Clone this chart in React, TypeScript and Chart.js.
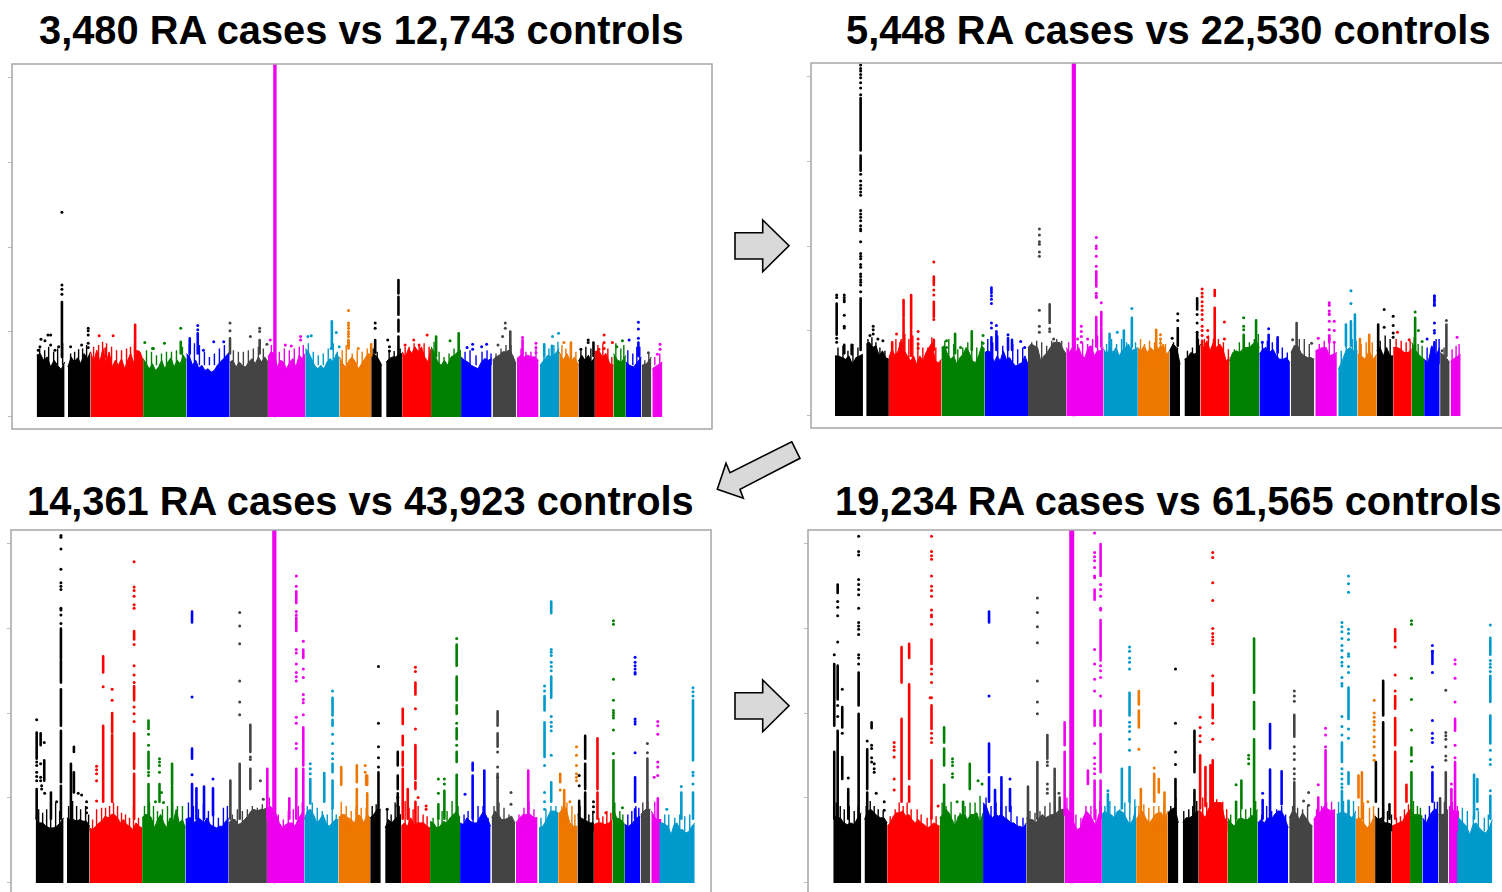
import React, { useEffect, useRef } from "react";
import { Chart, registerables } from "chart.js";

Chart.register(...registerables);

// Genome position is in plot units measured from the first base of chr1.
// Arms: chr1 and chr9 are split by their centromere gaps; chrX is last.
const armNames = ["1p","1q","2","3","4","5","6","7","8","9p","9q","10","11","12","13","14","15","16","17","18","19","20","21","22","X"];
const armStarts = [0,31.3,54,106.6,150,193.3,231.6,269,303.3,335,350,366,395,425,456.6,481,504,523.3,542.6,559,577.6,590,606,616.5,624.5];
const armEnds = [28,54,106.6,150,193.3,231.6,269,303.3,335,345.6,366,395,425,455.6,480,502.6,523.3,542.6,559,577.6,590,605.6,615.6,626.6,660];
const palette = ["#000000","#ff0000","#008000","#0000ff","#444444","#ee00ee","#0099cc","#ee7700"];
const armColorIndex = [0,0,1,2,3,4,5,6,7,0,0,1,2,3,4,5,6,7,0,1,2,3,4,5,6];

const yTicks = [0,10,20,30,40];
const titles = [
  "3,480 RA cases vs 12,743 controls",
  "5,448 RA cases vs 22,530 controls",
  "14,361 RA cases vs 43,923 controls",
  "19,234 RA cases vs 61,565 controls",
];

// Upper edge of the dense band of each arm, read left to right (-log10 P).
const skyA = [
  [7.2,7.4,6.6,7,5.8,6.6,6,5.5,6.4],
  [5.8,7,6.4,6.9,6.2,7.4,6.8,7.6],
  [7.6,6.4,7.8,6.4,8,6.2,7.6,5.8,6.6,6,6.8,5.6,6.6,7.4,6.2,7.8,7.6,6.6],
  [6.8,6.2,5.6,6.2,5.4,5.8,6.6,5.6,6.4,6.9,5.8,6.6,6.2,7.2,6.6],
  [7.4,7,6,6.6,5.7,6,5.4,5.6,5.2,5.4,6,6.4,6.8,7.2,7.6],
  [6.4,6.6,5.8,6.4,6,5.8,6.4,6.8,6.2,7,6.4,7,6.4],
  [7,7.6,7.4,5.8,6.6,6.4,5.6,6.4,6.8,5.8,7.2,6.8,7.4],
  [8,7.6,6.8,6,5.6,6,5.6,6.4,6.8,6.4,7.4,6.8],
  [7,6.2,5.8,6.6,7,6.4,5.6,6.2,6.8,7.4,7.2],
  [7.2,7.3,6.8,6],
  [6.4,6.8,7,7,7.3,7.4],
  [7.6,7,8,7.4,8.2,7.6,8.2,7,6.4,8],
  [8.2,7.4,6.4,6,6.6,6,7,7.2,7.6,7.8],
  [7,6.6,6.4,6,5.8,5.6,6.4,6.8,6.6,6.8],
  [6.6,7,7.2,7.6,7.6,7.8,7.2,6.2],
  [6.8,7.2,7,7.2,7,7,6.6],
  [6,6.6,7.2,7,7.4,8],
  [7.6,6.6,7.4,6.4,7,6],
  [6.5,7.2,6.6,7.2,6.4,7],
  [7.6,7.8,7,7.4,6.2,6],
  [7.4,6.6,6.4,7.2],
  [6.4,6,5.8,6.4,7],
  [6,6.2,7],
  [5.6,6,6.4],
];
const skyB = [
  [7,7,6.8,6.6,7,6,6.8,7,7.2],
  [8.4,8.6,8,8.2,7,7.6,6.8,6.6],
  [6.8,7.8,7,7.6,9,7.6,7,6.4,7,6,7,6.4,7.4,8,8.6,6.4,6.2,6.6],
  [8,8.2,7.2,6.6,7,6,6.8,7.2,8,7.4,6.4,6.2,7,8.2,7.8],
  [7.4,7.6,7.4,6.2,7,6.4,7.6,6.6,6.8,6.2,5.8,6,6.2,7,6],
  [8,8.4,8.2,8,6.4,7,7.4,8,8.6,8.6,8.6,7.8,7.2],
  [8,7.4,8,7.4,8,7,6.8,8,8.2,7,7.6,7.6,8],
  [7.8,7.2,8,7.4,8,7,7.6,8,8.4,7.6,7.8,8],
  [8,7.6,8.2,7.4,8,7.6,8,7.8,8.4,7.2,7.6],
  [7.6,8.4,8,6],
  [6.6,6.8,7.4,7.2,7.4,8.4],
  [8,8,8.8,7.6,8.6,8,8.4,7.8,6.4,6.8],
  [6.4,7.4,7.6,7.4,7.8,8,8,8.4,8.8,8],
  [7.2,7.8,8,7.4,7.8,7,6.6,6.6,6.8,6.2],
  [7.4,8.2,8.2,7.4,7,6.8,6.8,6.6],
  [7.6,7.8,8,8,7,7.2,7.4],
  [5.4,6.4,7.6,8,7.6,7.6],
  [7.2,7,6.6,7.6,6.6,7.2],
  [7.6,8,7,8,7,7],
  [8,8,7.8,7.4,7.4,7.8],
  [8.6,7.6,7,6.6],
  [6.6,6.2,8.2,7,8],
  [7.4,7,6.2],
  [6.4,6.8,7.2],
];
const skyC = [
  [7.6,7,7,6.6,6.4,6.4,6.6,7,7.6],
  [7.6,7.4,7.4,7.2,7.4,7.2,7.2,6.6],
  [6.4,6.2,6.6,7,7.2,7.8,7.6,8,8,7.6,7,7.4,6.8,6.6,6.2,7,6.6,6.4],
  [7.6,8,8,7.6,6.4,7.4,8,7,6.4,7.6,7,8.6,7,7.4,6.4],
  [7.4,7.6,7.6,7,7.6,7.4,7,7.6,6.8,6.6,6.4,6.6,6.6,7.2,7.6],
  [7,7.4,7.4,6.8,7,7.4,7.8,8.4,8.6,8.4,8.6,8.6,8.8],
  [8.6,9,8.6,8,7,6.4,6.8,7,7,6.6,7.4,8,8.6],
  [7.4,8.4,8.6,8,7,7.4,8,7,6.6,7,7.4,7.4],
  [7.6,8,8,7.6,7.4,7,8,7.8,7,8,7.6],
  [7.6,8,8.6,8.6],
  [6.4,7.4,7,7.4,7.8,8],
  [6.6,7,6.6,7.6,6.8,7,7,7,6.6,6.4],
  [7.2,7,6.4,6.6,7.2,7,7.6,8,8.4,7.6],
  [7,6.8,7.6,7.2,7,7,7.8,8.4,7.6,6.6],
  [7.6,8.4,8,7.4,7.4,7.6,7.8,7],
  [7,7.6,8,8,8,7.6,7.6],
  [6.4,6.6,7.4,8.4,8.4,8.2],
  [8,8.6,8.8,7,6.6,6.6],
  [8,7.6,7.4,7.2,7,7],
  [6.8,7,7,6.8,7,7.4],
  [9,7.6,7.4,6.8],
  [6.8,6.6,7,7.6,7.8],
  [8,8.6,8.6],
  [8.4,7.4,7.4],
  [7,7,6.8,6.6,5.6,6.8,7,6.2,6.2,5.8,6,6.6,7],
];
const skyD = [
  [8,7.6,7.6,7,6.8,7,6.8,7.6,8.2],
  [7.4,8.4,8.6,8.2,7.8,7.6,7.6,7],
  [6.6,7,7.8,8.2,8.2,8.4,7.8,8,7.4,7,7.4,7,6.8,6.4,6.6,7,6.8,6.6],
  [7.6,8,8.6,8.2,7.4,6.6,7.8,8,8,7.4,8,8,8.2,7,8.2],
  [9.4,9,8,7.6,8,7.8,8,7.6,7.4,7,7,6.6,6.6,6.4,7],
  [7.6,7.4,7.4,7,7.6,8,7.6,7.8,8,8,8.4,8.6,8.6],
  [9,8.6,8,7,6.2,6.4,7.6,8.4,8,7.4,6.6,8,9],
  [8,8.4,8,8,7.6,8.4,8.4,8.2,7.4,6.8,7.4,9],
  [7.4,8,8.4,7.6,7,7.4,8,8.2,8.2,7.4,8.4],
  [8.2,8.6,8.8,7],
  [7,7.6,7.6,7.8,8.2,8.4],
  [8.6,8.2,7.6,8.6,9.4,9.4,9.4,9.4,7.6,7],
  [7.6,7,6.6,7.4,7.6,7.4,7.4,7.8,8,8.6],
  [7,7.4,7,7.6,7.4,8,8.4,8.4,7.6,6.4],
  [7.6,8.4,8.2,7.4,8.2,7.6,7,6.6],
  [7.4,8,8.4,9,8.6,8.4,8.6],
  [8,8.2,8.2,8,7.6,8.4],
  [7.4,7.6,7,6.4,7,8],
  [7.8,7.4,7.6,7,7,6.8],
  [6.6,6.8,7,7.2,8,8.6],
  [8.6,8,8,7.8],
  [7.6,7,8,8.6,8.6],
  [8,8,8.6],
  [9,8.4,8.4],
  [7.8,7.4,7,6.6,5.6,6.8,7,6.4,6,5.8,6.4,7.4],
];

// Short spikes that rise from the dense band: [position, top, position, top, ...]
const combA = [3,8,8,7.8,12,8.2,17,7.6,21,8,26,8.6,34,7.4,38,7.6,42,7.9,46,8,50,8.4,57,8.2,62,8.4,66,8.8,70,8.6,75,8.2,80,7.8,85,7.8,90,8,94,8.2,98,8.6,102,7.6,110,7.8,115,7.6,120,7.2,125,7.4,130,7.6,135,7.6,140,7.8,146,8.2,153,8.4,158,8.6,163,8.4,168,7.6,173,7,178,7.4,183,8,188,8.4,197,7.8,202,7.6,207,7.6,212,7.8,217,8,222,8.2,227,8,235,8.4,243,7.6,248,8,253,7.8,258,8,263,8.2,267,8.4,272,8.6,277,7.6,282,7.2,287,7.4,292,8,297,8.6,301,7.6,306,7.8,310,8.4,316,7.4,321,7.8,326,7.6,331,8,337,8,341,7.6,353,7.8,358,7.7,364,8,369,8.2,373,8.2,378,8.6,383,8.4,388,8.6,393,8.2,398,8.8,403,7.6,408,7,413,7.4,418,8,423,8.6,429,7.6,434,7.8,440,7.2,446,7.6,451,7.8,455,7.4,460,7.4,465,8,470,8.4,475,8.4,485,8,490,7.6,495,7.6,500,8,508,8,513,8,518,8.4,522,8.8,526,8.4,530,8,535,8.7,540,7.6,545,7.8,550,8.2,555,8,562,8.4,567,8.6,572,8,576,7,580,8.6,585,8,588,8.4,592,7.8,597,7.4,601,8.2,604,8.2,609,6.6,613,7.4,619,7,624,7.4];
const combB = [3,8,8,8.2,13,7.6,18,8.4,23,8,33,9,37,9.2,41,8.6,45,8,50,7.6,57,8.6,61,9,65,8.6,70,9.6,74,9,78,9.4,83,8.6,88,8,93,8,97,9.2,101,8,110,8.8,114,9,119,8.4,123,7.8,128,8,133,8.6,137,9,142,8,147,8.8,153,9,158,8.6,163,9.4,168,8.2,173,9,178,8.4,183,7.8,188,8,197,8.6,202,8.8,207,8.6,212,8.2,217,8.8,222,9,227,8.8,234,8.6,243,8.4,248,8.6,253,8.4,258,9,263,9.4,267,9,272,8.4,277,9,282,8.4,287,9,292,8.6,297,9,301,8.6,306,9,310,8.4,315,8.8,320,8.6,326,9,331,8.4,339,8.6,343,8,353,7.6,358,8,364,9,370,9,374,9.4,379,9,384,9,389,8.6,394,7.8,400,7.8,405,8.6,410,8.8,415,8.6,420,9,424,9.6,428,8.6,433,8.8,438,8.6,443,9,448,8,453,7.4,460,8.2,465,9,470,9,475,8.4,485,8.4,490,8.8,495,9,500,8.6,507,7.6,512,8.6,518,9,522,8.8,527,8.4,532,8.6,538,8.6,546,8.8,551,9.4,556,9,562,9,567,8.8,572,8.6,576,8.8,580,9.2,584,8.4,588,8.2,593,8,597,8,602,9,605,9,610,8,618,7.8,622,8.2,625,8.4];
const combC = [3,8.6,7,8.2,11,8.6,15,8,20,9.4,24,8.4,33,9,37,9.6,41,9,45,8.6,50,9,53,8,57,7.4,61,8.6,66,8.8,70,8.8,74,9,78,9.4,82,9,86,8.2,90,8,94,7.6,98,9,103,7.6,109,9,114,9.4,118,9,122,8.4,127,8.6,132,9,137,9.4,142,9,147,9,153,9.4,158,9,163,8.6,168,9.2,173,8.4,178,8.4,183,7.6,188,8.8,192,9,197,8,202,8.6,207,8.4,212,8.6,217,9,222,8.8,227,9.2,234,10,243,8,248,7.4,253,8.4,258,8.6,263,9,267,9.4,272,9,277,9.4,282,8.8,287,8.4,292,8,297,8.8,301,8,306,9.5,311,9,316,8.4,321,9,326,8.8,331,8.8,337,9,341,9.2,352,8.6,356,8,360,9.4,364,9,370,9.6,374,8.8,378,8.6,383,9,388,8,392,7.8,398,7.6,403,8,407,8.4,412,8.4,417,9.6,423,9,429,8,433,8.4,438,9,443,9,448,9,453,7.6,459,9,464,9.4,469,8.8,474,8,484,8,489,8.8,494,9.5,499,8.6,506,7.6,511,8.6,516,9,521,9,527,9,532,9.4,537,9,540,8,545,9,550,9,554,8,558,8.4,564,7.6,568,7.8,572,8.4,576,8.2,580,9.4,585,8.4,588,8,593,8,597,8.4,601,9,604,8.8,608,9.4,613,9.5,620,9.5,630,8,634,8,640,7.6,645,8,650,7.8,655,8];
const combD = [3,9.4,7,9,11,8.6,16,9,21,8.4,25,9,33,9,37,9.6,41,9,45,8.6,50,8.4,57,7.8,62,8.6,66,9.4,70,9,74,9.4,78,8.6,84,8.6,88,8,94,7.6,98,9,103,7.8,109,9.4,113,9,118,9.5,122,8,127,8.2,132,9,137,9.4,142,9.4,147,10.2,153,10,158,9,163,9.4,168,9,173,9,178,9,184,7.8,190,7.6,197,8.4,202,8.2,207,8.4,212,9,217,9.4,222,9.5,227,9.6,234,10,243,8,248,7.6,253,9,258,9,263,8.6,267,9.6,272,9,277,9.6,282,9,287,8.6,292,9.4,297,9.6,302,9.8,306,9,311,9.2,316,8.8,321,9,326,9,331,9,338,9,343,10,351,8.4,356,8.6,360,9,364,9.6,370,10,374,9.4,380,10,384,9.8,390,9.5,394,8.6,398,8,403,9,408,8.6,413,8.6,418,8.8,423,9.6,429,8,434,9,439,8.4,444,8.6,449,9,453,8,460,9,465,8.8,470,8.6,475,9,484,8.6,489,9,494,9.5,499,9.5,506,9.5,511,9.6,516,9.6,521,9.6,526,9,531,9.4,537,8.8,541,9,546,8.8,551,8.6,555,8.4,559,8,564,7.6,568,7.8,572,8.6,576,9.2,581,9.6,585,9,588,8.8,593,8,597,9,602,9.5,605,9.5,608,9.5,612,9.5,620,9.5,625,9,630,8.8,635,8.4,641,7.8,646,8.4,652,7.6,656,8];

// Solid columns of SNPs: [position, lowest -log10 P, highest -log10 P]
const runsA = [
  [25.3,7,13.5],[69,7,8],[98.6,7,10.8],[144.3,7.4,8.8],[153.3,7.4,9.2],[161.3,7.4,9.8],
  [193.6,7.4,9.2],[223.3,7.4,9],[238.2,0,42],[239,0,42],[295.6,8,11.2],[335,7.1,8.5],
  [362.3,7,9.4],[362.3,10,11.4],[362.3,12,14.1],[362.3,14.5,16.1],[339,7.5,9],
  [400,7.1,9.4],[422.6,7.1,9.8],[474.3,7.1,10],[486.6,7.1,9],[508.3,7.1,8.5],[516,7,8.3],
  [535,6.3,8.7],[557.6,7.1,8.7],[602.6,7.1,8.7],[312.3,8,8.8],
];
const runsB = [
  [1.7,9.5,13.2],[9.3,7.3,8.3],[16.7,7.2,8.3],[25.7,31.3,37.5],[25.7,28.9,30.7],[25.7,7.7,13.8],
  [68.7,11.6,13.6],[68.7,7,11.4],[76.3,10.2,14.2],[76.3,7,10],[57.3,7.3,8.6],[99,15.4,16.4],[99,11.6,13.4],[99,7.7,8.9],
  [120.3,7.3,9.6],[137,7.7,9.9],[156.7,14.4,15.1],[156.7,7.3,9.2],[161.7,7.7,9.9],[173.3,7.7,9.1],[177.3,7.7,8.9],
  [215,10.9,13.1],[238.4,0,42],[239.2,0,42],[240,0,42],[261.7,15.2,17],[261.7,8.1,11.6],[266.7,10.5,12.2],[266.7,8.1,10.3],
  [297.3,8.1,11.5],[289.3,7.3,10],[275,7.3,9.6],[321.7,7.4,10.1],[343.3,8.2,10.3],[362.7,12.5,13.8],[362.7,7.4,9.6],
  [367.7,8,8.8],[380.3,14.1,14.8],[380.3,8.2,12.7],[409.3,7.4,9.5],[421.7,7.8,11.2],[434.3,7.4,9.5],[443.3,7.4,9.2],
  [462.3,7.4,10.9],[495,8.6,9.3],[516.7,8.2,11.1],[520.7,7.4,11.9],[511.7,8.2,10.7],[535,6.2,9.5],[525.7,6.7,9],
  [544,7.4,10.7],[581,7,11.5],[600.3,6.2,8.6],[600.3,13,14.1],[612.3,7,10.7],
];
const runsC = [
  [25.3,26.4,30],[25.3,23.6,26.2],[25.3,18.5,22.8],[25.3,11.8,17.9],[25.3,7.5,11.4],[1,14.6,17.7],[1,7.5,11],[5,16.2,17.6],
  [8.6,12,14.4],[15.3,7.5,10.6],[38.3,15.4,16],[35.3,7.5,14],[38.3,10.6,13],
  [67.6,24.8,26.7],[67.6,9.5,18.5],[76.6,17.7,20],[76.6,9.5,17.4],[98.6,28.7,29.7],[98.6,21.5,23.2],[98.6,13.4,17.6],[98.6,7.5,12.8],
  [113,18.1,19.1],[113,13.4,15.4],[113,7.5,11.6],[124,9.5,11.6],[136.6,11.5,14],[136.6,7.5,11.3],
  [156.6,30.7,32],[156.6,14.6,15.8],[156.6,7.5,11.6],[177.6,7.9,11.1],[168.6,7.5,11.3],[161,7.5,11.1],
  [204.3,7.5,14],[215,15.4,18.6],[215,11,13.4],[195,7.5,12],[238.2,0,42],[239,0,42],[239.8,0,42],
  [261,33,34.4],[261,29.7,31.3],[261,7.5,13.4],[268,26.5,27.5],[268,13.8,18.3],[268,7.5,13.4],[232,7.5,13.4],[254,7.5,9.9],
  [275,9.3,12.2],[289,9.5,12.9],[297.3,19.7,21.8],[297.3,18.5,19.2],[297.3,13,14],[297.3,8.7,12],
  [306,11.5,13.6],[321.6,11.8,13.8],[321.6,7.5,11],[331,11.5,12.6],
  [332,11.5,12.6],[332,7.1,10.5],[343.3,7.5,13],[362.6,13.8,15.4],[362.6,11,12.6],[362.6,7.5,10.5],
  [367.6,18.7,20.5],[367.6,16.2,17.3],[367.6,13.8,15.4],[367.6,7.5,13.4],[372.6,7.5,11],[380.3,22.2,23.6],[380.3,12.2,16.2],[380.3,11,11.8],[380.3,7,9.5],
  [421.6,25.6,28.1],[421.6,21.5,24.3],[421.6,19.9,20.9],[421.6,16.9,18.2],[421.6,14.2,15.4],[421.6,7.5,12.7],[409.3,7.5,10.8],[403.3,7.5,9.2],
  [437.6,13.2,14.1],[437.6,7.5,12.6],[449.3,7.5,13.2],[462.6,18.5,20.2],[462.6,16,17.6],[462.6,11,12.8],[462.6,7.5,11],
  [493.3,7.5,13.2],[509.6,20.3,22],[509.6,14.8,18.9],[516.3,31.8,33.2],[516.3,21.8,24.3],[516.3,9.5,11.8],
  [525.3,11.8,12.8],[529.3,7.5,10.9],[550.3,14.6,17.3],[550.3,11,14],[550.3,7.5,10.6],[544.3,7.5,9.6],
  [562.6,11,17],[562.6,7.5,10.6],[578.6,7.5,14.4],[600.3,9.5,12.4],[600.3,7.5,8.6],[612.6,7.5,14.6],[623,7.5,9.9],
  [658.3,14.4,21.5],[658.3,7.5,10.6],[646.6,7.5,10.6],
];
const runsD = [
  [4.4,34.2,35.2],[4.4,21.6,25.6],[4.4,7.5,17.9],[1,18.5,25.8],[1,7.5,15.4],[9,18.3,20.7],[9,12.2,14.8],[15,7.5,11],
  [25.4,20.9,24.8],[25.4,7.5,19.9],[38.4,18.2,18.9],[34,11,15.7],[34,7.5,10.6],
  [68.4,23.6,27.8],[68.4,9.5,19.3],[76,26.5,28.2],[76,12.2,23.4],[76,9.5,11.3],[98.4,25.8,28.7],[98.4,18.1,20.9],[98.4,7.5,14.4],
  [111,16.5,18.3],[111,13.8,15.8],[111,7.5,11.5],[136.7,11,14],[130,7.5,9.5],
  [156,30.7,32],[156,13,16.4],[156,9.5,12.4],[168.4,7.5,12.4],[177,8.4,11],[162,7.5,10.9],
  [204.4,7.5,14.2],[195,7.5,11.3],[214.4,14.6,17.4],[221.7,7.9,13.4],[226.7,7.5,10],
  [237.6,0,42],[238.4,0,42],[239.2,0,42],[240,0,42],[231.7,16.2,18.9],[231.7,8,15.4],
  [261.7,33.4,34.6],[261.7,18.5,20.3],[261.7,7.5,12],[267.7,36.2,40],[267.7,26.2,31],[267.7,18.5,20.3],[267.7,13,17.5],[267.7,7.5,12],[255,11.6,13.2],
  [296.7,19.7,22.4],[296.7,9.5,13.6],[289,8.7,13.4],[275,7.5,10.4],[306,21,22.6],[306,18.3,20.3],[308,7.5,11],
  [321.4,9.5,12.8],[326,10.6,12.2],[331.7,7.5,10.6],[342.7,7.5,12.2],[361.7,13,17.9],[361.7,7.5,10.9],
  [367.4,8.7,15],[380,22.1,23.5],[380,19.4,21],[380,7.5,14.4],[372.7,9,13.6],[377.7,7.5,13.8],
  [421.4,22.4,28.8],[421.4,18.1,21.3],[421.4,7.5,16.9],[408.7,8.7,12],[403.4,7.5,9.5],
  [437.4,15.8,18.7],[437.4,7.5,13.3],[449,9.2,13.1],[430,7.5,9.7],[461.7,17.2,19.8],[461.7,7.5,11.8],
  [493,7.5,15.6],[485.7,7.5,10],[509.4,14.2,16.5],[509.4,7.5,10.8],[516,19.3,23],[516,11.6,13],[516,7.5,9.6],
  [529.4,7.5,13],[526,10,12.6],[550.7,19.7,23.8],[550.7,7.5,18.9],[543.4,9.5,14.2],[557,7.5,9.2],
  [562.7,28.5,29.9],[562.7,20.5,22],[562.7,16.2,19.4],[562.7,7.5,15.4],[574,9.5,11.5],
  [579,15,15.9],[579,7.5,13],[600,25.8,27.3],[600,9.5,13],[613.4,7.5,13],[607.7,7.5,9.9],[622.7,17.9,19.3],[622.7,7.5,14.2],[619,7.5,11],
  [658,26.9,28.9],[658,21.3,24.4],[658,16.4,19.7],[658,7.5,10.2],[641.7,7.5,12.7],[645,9.5,12.2],
];

// Single SNPs or thin strings of SNPs: [position, -log10 P, -log10 P, ...]
const dotsA = [
  [25.3,24.1,15.5,15,14.4],[4.3,9.1],[11.3,9.6],[14,9.6,8.4],[1.6,7.8],[3.3,8.2],[8.3,8.9],[18.3,7.8],[22,8.2],
  [34,8.2],[45,8.4],[51.6,10.4,10.1,9.6,8.6,8.1],[62.6,9.5],[76.6,9.5],[108.3,8.7],[116,8],[117,8],[128,8.6],[144.3,10.4],
  [161.3,10.7,10.2],[167,7.8],[177.3,8.8],[187.3,8.8],[193.6,11,10.1],[214,9.4],[223.3,10.4,10],[230.6,8.5],[234,9],
  [249,8.4],[255,8.3],[264.3,9,9.4],[271.6,9.4],[275,9.5],[295,8],[300,9.9],[303,8.2],
  [312.3,12.5,11,10.7,10.4,10,9.7,9.4,9,8.7,8.4],[322,8],[339,11,10.4],[351.6,9],[353.3,8.2,7.7],
  [369,8.4],[377.6,9],[391,9.6],[383,8.4],[414,8.9],[431,8.1],[436.6,8.5,7.9],[445.6,8.2],[450.6,8.5],
  [469.3,11,10.4],[466.6,9.4],[462,8.4],[486.6,9.3],[500,8.6,8.1,7.5],[516.6,9.4],[522.6,9.8],[528,8.7],
  [552.3,9,8.7],[545,7.9],[568.3,9.6,8.7,8],[563,7.9],[576.6,8.7],[586.6,8.9],[581,8.2],[593.3,9],[602.6,11.1,10.3,9.2],
  [612.6,7.5],[624.3,8.5,7.9],[621.6,7.3],
];
const dotsB = [
  [1.7,14.2,13.9,9.1,8.6],[9.3,14.2,13.9,13.6,13.4,11.8,10.5,10.3],
  [25.7,41.4,41,40.7,40.3,39.9,39.3,38.7,37.9,28.5,27.7,27.2,26.8,26.4,26,24.2,23.8,23.4,23,22.4,22,21.8,20.5,19.1,18.8,18.5,17.8,17.5,16.7,16.4,16,15.7,15.4,14.6],
  [38.3,10.5,10.1,9.6],[35,9.4],[43,9],[48,8.8],[83.3,9.9,9,8.4,7.9],[61.7,9.6],
  [99,18.1,14.8,14.2,11.3],[111.7,8.8,8],[125.7,8],[148.3,9.4,8.5],
  [156.7,14.1,13.7,13.2,10.9,10.3],[161.7,10.6],[173.3,9.5],[186,8.7],[190,8],
  [204.7,22,21.3,20.5,20.2,19.3,18.8,12.4,10.5,9.8],[215,10.2,9.9],[219,9],
  [261.7,21,20,19.7,18.8,17.6,14.4,14.1,13.9],[266.7,13.3],[246.7,10.5,9.9,9.3,8.6],[243,9],[253,9],
  [297.3,12.6],[282.7,9.8],[326,9.5,9,8.5,8],[343.3,12,11.2],[337.7,9.1],
  [362.7,11.9,10.9,9.8],[367.7,14.9,14.4,14,13.4,12.9,12.4,11.9,11.3,10.5,10,9.4],[390,11,9],[373.3,10,9.2],
  [409.3,11.5,10.5,10.1],[434.3,10.2],[428,8.6],[458.3,8.9],[477.3,8.5],
  [495,13.3,13,12.3,12,11.9,11.1,10.1,9.4,9],[500,11.1,10,8.6],[484,9.1],
  [516.7,14.7,13.2],[550,12.5,10.4],[559,11.7,10.6,9.7,9.2],[563.3,9.8],[575,8.9],[581,12.2],[584.3,10],[588,8.7],
  [600.3,14.1,13.6,13,10.9,10,9.7],[593,9],[612.3,11.2],[608,7.6],[623,9.2],
];
const dotsC = [
  [25.3,41,40.8,39.4,37,35.4,35,34.6,32.4,32.2,31.6,30.6],[1,19.2,14.2,13.8,13,12.5,12],[5,14,12.4,12],[8.6,16.5],[6,11.4,11],[9,10.5],[21,9.5],
  [42.6,10.5],[46,10.3],[51,9.5,8.8,8.2],
  [61,13.7,13.3,12.8,12,9.6],[67.6,23.1],[76.6,22.8,21.5],
  [98.6,37.9,34.9,34.5,33.8,32.8,32.4,28.1,25.6,24.5,23.6,20.7,19.9,19],
  [113,17.5,16.2,13,12.6],[124,14.6,14.2,13.8,13],[126,10.6],[120,9.5],[128,9.4],
  [156.6,21.9,12.7],[177.6,12.2],[204.3,31.9,30.3,28.2,23.8,21.3,19.8],[215,14.8,14.5],[225,12],[228,9.8],
  [261,36.2,35,32,31.6,27.5,27.1,25.8,24.8,24.3,23.8,19.5,18.8,16.4,15.8],
  [268,28.5,25.2,24.2,22.2,21.6,21.2,19.8],
  [275,14,13.4,12.8],[297.3,22.6,17.5,16.4,15.2,14.6],[330,13.8,13],
  [343.3,25.5,18.8,16,14.7,13.6],[362.6,10,9],[352,8.6],[380.3,25.4,24.9,20.5,18.1],[383,10],[391,9,8.6],
  [421.6,28.8,18.8,16.2],[409.3,12.2,11.6],[403.3,12.2,10.5],[430,10.4],[476,10.6,9.2],[462.6,15.4,13.6,12.4],
  [509.6,23.2,22.6,13.8,10.6,9.5,8.6],[516.3,27.5,27.2,26.8,26,25.5,25,19.6,18.9,18.4,17.9,15],[525.3,10.9],
  [541.6,16,15,13.8,12.8,12.4,12],[535,9.5],[544.3,12.6,11.4],[558.6,9.5,8.9,8.3],[571,8.2],
  [578.6,30.9,30.5,24,21.5,20.3,20,19.7,19.4,18,15.2],[587.6,8.8],
  [600.3,26.6,26,25.6,25.2,24.8,24.6,19.3,19,18.7,15.3],[612.6,16.4,15.3],
  [623,19,18.5,17.5,14.2,13.6,12.6],[619.4,12.4],[632,8.6],[646.6,11.3],[658.3,23,22.5,22,13,12.6,11.6],
];
const dotsD = [
  [4.4,33.2,32.5,31.5,28.4,20.9,19.6],[1,26.9],[9,22.8,17.6],[15,12.3],
  [25.4,40.9,39.1,38.7,35.8,35.2,34.6,34,32.4,30.7,30.3,29.9,29.3,26.9,26.5,25.8],
  [38.4,16.2,15.8,14.7,14.2],[34,16.7],[41,14,13.4,13],[43,10.5],[51,9.5,8.5],
  [61,16.5,16,15.6,14.8,12.2,10.9],[98.4,40.9,39.1,38.6,38.2,36.2,35,34.5,33.8,32.2,31.6,31.4,30.5,25.2,24.6,23.6,21.8,17.6,17,16.5],[97,21.8],[105,9],
  [119.4,14.6,14.2,13.8,12.8,12.4],[145,12],[149,11.6],[124,9.5],[156,22],[177,12.2],
  [204.4,33.6,31.9,30.2,28.3,23.8,21.3,19.9],[214.4,14.2,13.8,11.6,11,10.5],[226,10.5],
  [261.7,41.3,39,38.5,38,37.2,36.2,36,27.5,25.8,24,22.6,16.4,14.7,14,13.4,12.8],
  [267.7,35.2,34.6,33.8,32.4,32.2,25.6,25,24.2,22],
  [296.7,27.8,27.3,26.5,26,25.2,18.9,18.4,17.8,16.9,15.6],[275,10.8],[306,15.7],
  [321.4,13.5],[342.7,25.2,18.8,15.4,13.9],[367.4,19.5,18.3,17.3,16.6],
  [380,39,38.4,35.4,33.3,30,29.4,29,28.6,28.2,24.4,18.8,16.9],[416,15,14.6,14],[403.4,11.5],[430,10.5],
  [461.7,22.6,22,21.4,16,15.2,14.5,13.4,12.8,12.2],[476,10.6,9.1],[471,9.6],
  [493,18.2,17.4,16],[485.7,11.5],
  [509.4,30.7,30.2,29.6,28.8,28,27.4,26.6,26,25.6,24.2,23.5,23.2,19.6,18.4,17.4,13.4,12.8,12.2,11.6,11.2],
  [516,36.2,35.3,34.3,29.9,29.4,28.7,27,26.7,25.5,24.8,18.1,17],
  [541.7,21.5,20,19.5,19,18.6,18,17.2,16.6,16,15,14.4],[535.4,9.5],
  [562.7,27.8,24.5,22.6],[579,30.9,30.5,24.1,21.6,18,14.3],[600,28,27.3,24.8,19.1,17.6,17,16.5,13.6],
  [613.4,22.7,17.7,17.3,16.9,16,14.9,14.4],[622.7,26.3,25.8,24.1,21.3,16.2,14.7],[619,11.6],
  [658,30.4,26.2,25.8,25.4,24.9,15.6,14.5,13.9,10.8],[645,8.6],
];

const armOf = (x: number) => {
  const i = armEnds.findIndex((e) => x <= e);
  return i < 0 ? armEnds.length - 1 : i;
};

const buildDatasets = (sky: number[][], comb: number[], runs: number[][], dots: number[][]) => {
  const sets: any[] = [];
  sky.forEach((vals, i) => {
    const step = (armEnds[i] - armStarts[i]) / (vals.length - 1);
    const pts = vals.map((v, k) => ({ x: armStarts[i] + k * step, y: v }));
    sets.push({
      label: "chr" + armNames[i],
      data: pts,
      showLine: true,
      fill: { value: -0.1 },
      backgroundColor: palette[armColorIndex[i]],
      borderColor: palette[armColorIndex[i]],
      borderWidth: 1,
      pointRadius: 0,
      order: 1000 - i,
    });
  });
  palette.forEach((color, c) => {
    const combPts: any[] = [];
    for (let k = 0; k < comb.length; k += 2) {
      const x = comb[k];
      if (armColorIndex[armOf(x)] === c) {
        combPts.push({ x, y: 6 }, { x, y: comb[k + 1] }, { x, y: NaN });
      }
    }
    sets.push({
      label: "comb " + c,
      data: combPts,
      showLine: true,
      spanGaps: false,
      borderColor: color,
      borderWidth: 1.4,
      pointRadius: 0,
      order: 20,
    });
    const runPts: any[] = [];
    runs.forEach(([x, lo, hi]) => {
      if (armColorIndex[armOf(x)] === c) {
        runPts.push({ x, y: lo }, { x, y: hi }, { x, y: NaN });
      }
    });
    sets.push({
      label: "runs " + c,
      data: runPts,
      showLine: true,
      spanGaps: false,
      borderColor: color,
      backgroundColor: color,
      borderWidth: 2.6,
      borderCapStyle: "round",
      pointRadius: 0,
      order: 10,
    });
    const dotPts: any[] = [];
    dots.forEach(([x, ...ys]) => {
      if (armColorIndex[armOf(x)] === c) ys.forEach((y) => dotPts.push({ x, y }));
    });
    sets.push({
      label: "dots " + c,
      data: dotPts,
      showLine: false,
      backgroundColor: color,
      borderWidth: 0,
      pointRadius: 1.5,
      order: 5,
    });
  });
  return sets;
};

const framePlugin = {
  id: "frame",
  afterDraw(chart: any) {
    const { ctx, chartArea: a } = chart;
    ctx.save();
    ctx.strokeStyle = "#a6a6a6";
    ctx.lineWidth = 1.5;
    ctx.strokeRect(a.left, a.top, a.right - a.left, a.bottom - a.top);
    ctx.restore();
  },
};

const Manhattan = ({ left, top, xMin, sky, comb, runs, dots }: any) => {
  const ref = useRef<HTMLCanvasElement>(null);
  useEffect(() => {
    const chart = new Chart(ref.current as HTMLCanvasElement, {
      type: "scatter",
      data: { datasets: buildDatasets(sky, comb, runs, dots) },
      plugins: [framePlugin],
      options: {
        animation: false,
        responsive: false,
        events: [],
        layout: { padding: { top: 3, right: 3, bottom: 3, left: 0 } },
        plugins: { legend: { display: false }, tooltip: { enabled: false } },
        scales: {
          x: { type: "linear", display: false, min: xMin, max: xMin + 701 },
          y: {
            type: "linear",
            min: -1.53,
            max: 41.65,
            afterBuildTicks: (s: any) => {
              s.ticks = yTicks.map((value) => ({ value }));
            },
            afterFit: (s: any) => {
              s.width = 12;
            },
            ticks: { display: false },
            border: { display: false },
            grid: { drawOnChartArea: false, drawTicks: true, tickLength: 4, color: "#bdbdbd" },
          },
        },
      },
    } as any);
    return () => chart.destroy();
  }, []);
  return (
    <canvas
      ref={ref}
      width={716}
      height={373}
      style={{ position: "absolute", left: left - 12, top: top - 3, width: 716, height: 373, filter: "blur(0.5px)" }}
    />
  );
};

const Title = ({ left, top, text }: any) => (
  <div
    style={{
      position: "absolute",
      left,
      top,
      font: "bold 39.8px 'Liberation Sans', Arial, sans-serif",
      lineHeight: "40px",
      whiteSpace: "nowrap",
      color: "#000",
    }}
  >
    {text}
  </div>
);

const arrowStyle = { fill: "#d9d9d9", stroke: "#000", strokeWidth: 1.6 };

export default function App() {
  return (
    <div
      style={{ position: "absolute", left: 0, top: 0, width: 1502, height: 892, overflow: "hidden", background: "#fff" }}
    >
      <Title left={39} top={10} text={titles[0]} />
      <Title left={846} top={10} text={titles[1]} />
      <Title left={27} top={481} text={titles[2]} />
      <Title left={835} top={481} text={titles[3]} />
      <Manhattan left={12} top={63} xMin={-24.7} sky={skyA} comb={combA} runs={runsA} dots={dotsA} />
      <Manhattan left={811} top={62} xMin={-24} sky={skyB} comb={combB} runs={runsB} dots={dotsB} />
      <Manhattan left={11} top={529} xMin={-24.7} sky={skyC} comb={combC} runs={runsC} dots={dotsC} />
      <Manhattan left={808} top={529} xMin={-25.3} sky={skyD} comb={combD} runs={runsD} dots={dotsD} />
      <svg width={1502} height={892} style={{ position: "absolute", left: 0, top: 0, pointerEvents: "none" }}>
        <polygon points="735,232.7 762.7,232.7 762.7,220 789,245.7 762.7,271.7 762.7,259 735,259" style={arrowStyle} />
        <polygon points="791.7,441.7 800,458.3 740,489.3 743.3,498.3 717.3,489.3 726,463.3 730,472.7" style={arrowStyle} />
        <polygon points="735,692.7 762.7,692.7 762.7,680 789,705.7 762.7,731.7 762.7,719 735,719" style={arrowStyle} />
      </svg>
    </div>
  );
}
